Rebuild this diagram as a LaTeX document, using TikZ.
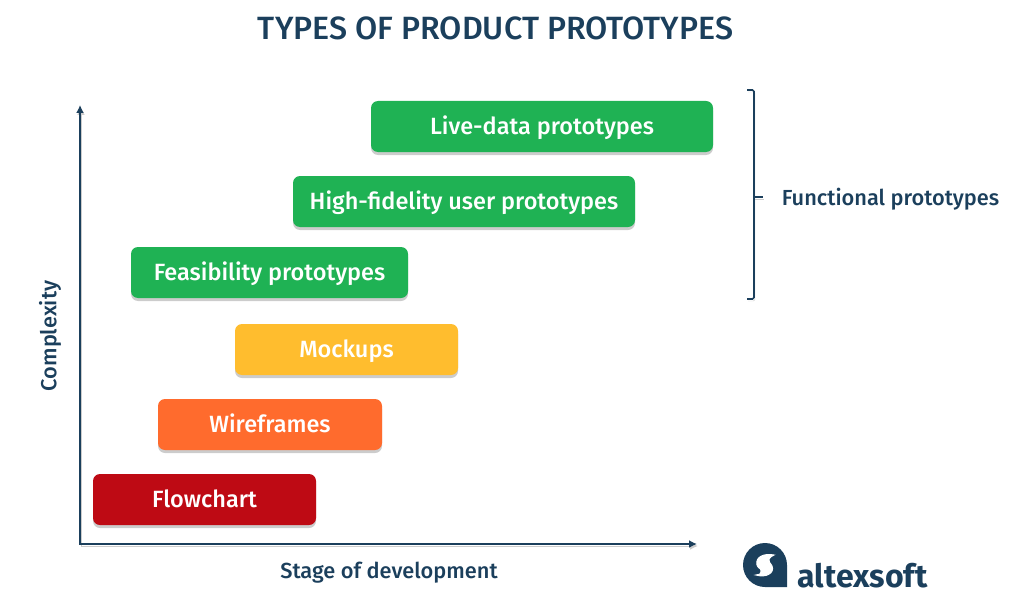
\documentclass[tikz,border=0pt]{standalone}
\usepackage{fontspec}
\setmainfont{Fira Sans Medium}
\newfontfamily\brandfont{Fira Sans}
\usepackage{xcolor}
\usetikzlibrary{arrows.meta, shadows, calc, positioning}
\definecolor{navy}{HTML}{1B3F5C}
\definecolor{stagegreen}{HTML}{1FB254}
\definecolor{stageyellow}{HTML}{FFBD2E}
\definecolor{stageorange}{HTML}{FF6B2D}
\definecolor{stagered}{HTML}{BE0A14}
\tikzset{> = { Latex[length = 8pt, width = 8pt] }}
\tikzset{
	softshadow/.style = {drop shadow = {shadow xshift = 0pt, shadow yshift = -3pt, fill = black, opacity = 0.2}},
	stagebox/.style = {rounded corners = 7pt, inner sep = 0pt, minimum height = 51pt, text height = 20pt, text depth = 4pt, text = white, softshadow, font = \fontsize{23.5}{23.5}\selectfont},
	axisline/.style = {draw = navy, line width = 1.6pt, preaction = {draw = black!20, transform canvas = {shift = {(1pt, -2pt)}}}},
	darklabel/.style = {text = navy, inner sep = 0pt, font = \fontsize{21.8}{21.8}\selectfont},
}

\begin{document}
\begin{tikzpicture}[x = 1pt, y = -1pt]
		\useasboundingbox (0, 0) rectangle (1025, 615);

		\node [text = navy, inner sep = 0pt, font = \fontsize{32.2}{32.2}\selectfont] (title) at (495.5, 28) {TYPES OF PRODUCT PROTOTYPES};

		\node [stagebox, fill = stagegreen, minimum width = 342pt] (live) at (542, 126.5) {Live-data prototypes};
		\node [stagebox, fill = stagegreen, minimum width = 342pt] (high) at (464, 201.5) {High-fidelity user prototypes};
		\node [stagebox, fill = stagegreen, minimum width = 277pt] (feasibility) at (269.5, 272.5) {Feasibility prototypes};
		\node [stagebox, fill = stageyellow, minimum width = 223pt] (mockups) at (346.5, 349.5) {Mockups};
		\node [stagebox, fill = stageorange, minimum width = 224pt] (wireframes) at (270, 424.5) {Wireframes};
		\node [stagebox, fill = stagered, minimum width = 223pt] (flowchart) at (204.5, 499.5) {Flowchart};

		\coordinate (origin) at (80, 544);
		\coordinate (ytop) at (80, 105);
		\coordinate (xend) at (697, 544);
		\draw [axisline, <->] (ytop) -- (origin) -- (xend);
		\node [darklabel, rotate = 90] (complexity) at (50, 336) {Complexity};
		\node [darklabel] (stage) at (389, 573) {Stage of development};

		% bracket
		\coordinate (btop) at (747, 90);
		\coordinate (bbottom) at (747, 299);
		\coordinate (bmid) at (763, 197);
		\draw [axisline, rounded corners = 1.5pt] (btop) -- (754, 90) -- (754, 299) -- (bbottom);
		\draw [axisline] (754, 197) -- (bmid);
		\node [darklabel] (functional) at (890.5, 199) {Functional prototypes};

		% logo
		\fill [navy] (787, 587) -- (765, 587) arc [start angle = 90, end angle = 360, radius = 22pt, y radius = -22pt] -- cycle;
		\filldraw [white, line width = 1pt] (774, 555) .. controls (764, 553) and (755, 557) .. (757, 565)
			.. controls (758, 569) and (762, 568) .. (761, 572)
			.. controls (761, 574) and (759, 575) .. (756, 575)
			.. controls (766, 578) and (775, 573) .. (772, 566)
			.. controls (770, 562) and (768, 562) .. (769, 559)
			.. controls (770, 557) and (772, 556) .. (774, 555) -- cycle;
		\node [text = navy, inner sep = 0pt, font = \brandfont\fontsize{32}{32}\selectfont\bfseries] (brand) at (862.5, 576) {altexsoft};
	\end{tikzpicture}
\end{document}
